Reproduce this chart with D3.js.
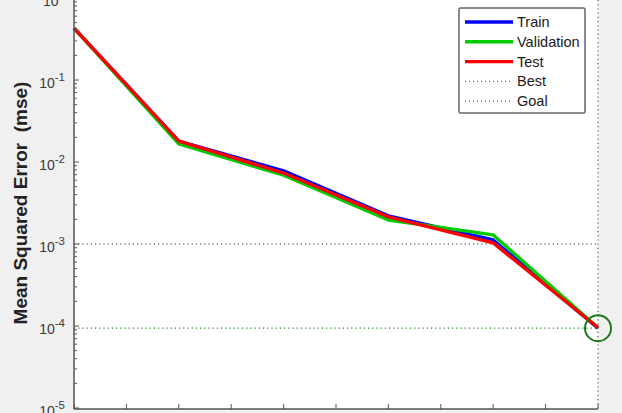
<!DOCTYPE html>
<html lang="en">
<head>
<meta charset="UTF-8">
<title>Performance plot</title>
<script src="https://d3js.org/d3.v7.min.js"></script>
<style>
  body { margin: 0; background: #f0f0f0; }
  svg { display: block; font-family: "Liberation Sans", Arial, sans-serif; }
  .tick-label { font-size: 14px; fill: #3a3a3a; }
  .legend-text { font-size: 14.5px; fill: #1a1a1a; }
</style>
</head>
<body>
<div id="chart"></div>
<script>
  // epochs and mse per data set
  const epochs = [0, 1, 2, 3, 4, 5];
  const trainMse = [0.43, 0.018, 0.0078, 0.0022, 0.00112, 0.000094];
  const validMse = [0.43, 0.0166, 0.0069, 0.00196, 0.00129, 0.000095];
  const testMse  = [0.43, 0.018, 0.00734, 0.00214, 0.00103, 0.000096];
  const bestEpoch = 5;
  const bestValue = 0.000094;
  const goalValue = 0.001;
  const yDecades = [1e-5, 1e-4, 1e-3, 1e-2, 1e-1, 1];
  const legendNames = ["Train", "Validation", "Test", "Best", "Goal"];

  const W = 622, H = 413;
  const mLeft = 74, mRight = 598, mTop = -2, mBottom = 408;

  const svg = d3.select("#chart").append("svg")
      .attr("width", W).attr("height", H);

  // white axes area
  svg.append("rect")
      .attr("x", mLeft).attr("y", 0)
      .attr("width", mRight - mLeft).attr("height", mBottom + 1)
      .attr("fill", "white");

  const x = d3.scaleLinear().domain([0, 5]).range([mLeft, mRight]);
  const y = d3.scaleLog().domain([1e-5, 1]).range([mBottom, mTop]);

  // goal and best guide lines
  svg.append("line")
      .attr("x1", mLeft).attr("x2", mRight)
      .attr("y1", y(goalValue)).attr("y2", y(goalValue))
      .attr("stroke", "#333").attr("stroke-width", 1.2)
      .attr("stroke-dasharray", "1.2,3");
  svg.append("line")
      .attr("x1", mLeft).attr("x2", mRight)
      .attr("y1", y(bestValue)).attr("y2", y(bestValue))
      .attr("stroke", "#1f8a1f").attr("stroke-width", 1.2)
      .attr("stroke-dasharray", "1.2,3");
  svg.append("line")
      .attr("x1", x(bestEpoch)).attr("x2", x(bestEpoch))
      .attr("y1", 0).attr("y2", mBottom)
      .attr("stroke", "#1f8a1f").attr("stroke-width", 1.2)
      .attr("stroke-dasharray", "1.2,3");

  // series
  const line = d3.line().x((d, i) => x(epochs[i])).y(d => y(d));
  const series = [
    { name: "Train", values: trainMse, color: "#0000ff" },
    { name: "Validation", values: validMse, color: "#00cc00" },
    { name: "Test", values: testMse, color: "#ff0000" }
  ];
  series.forEach(s => {
    svg.append("path")
        .datum(s.values)
        .attr("d", line)
        .attr("fill", "none")
        .attr("stroke", s.color)
        .attr("stroke-width", 3.4)
        .attr("stroke-linejoin", "round");
  });

  // best circle
  svg.append("circle")
      .attr("cx", x(bestEpoch)).attr("cy", y(bestValue))
      .attr("r", 13)
      .attr("fill", "none")
      .attr("stroke", "#1a7a1a")
      .attr("stroke-width", 2);

  // axes lines
  svg.append("line")
      .attr("x1", mLeft).attr("x2", mLeft).attr("y1", 0).attr("y2", mBottom + 1)
      .attr("stroke", "#555").attr("stroke-width", 1.5);
  svg.append("line")
      .attr("x1", mLeft).attr("x2", mRight).attr("y1", mBottom + 1).attr("y2", mBottom + 1)
      .attr("stroke", "#555").attr("stroke-width", 1.5);

  // y ticks: majors + minors, drawn inward
  const minorVals = [];
  for (let e = -5; e < 0; e++) {
    for (let m = 2; m <= 9; m++) minorVals.push(m * Math.pow(10, e));
  }
  svg.selectAll(".ymin").data(minorVals).enter().append("line")
      .attr("x1", mLeft).attr("x2", mLeft + 3)
      .attr("y1", d => y(d)).attr("y2", d => y(d))
      .attr("stroke", "#555").attr("stroke-width", 1);
  svg.selectAll(".ymaj").data(yDecades).enter().append("line")
      .attr("x1", mLeft).attr("x2", mLeft + 5)
      .attr("y1", d => y(d)).attr("y2", d => y(d))
      .attr("stroke", "#555").attr("stroke-width", 1);

  const lbl = svg.selectAll(".ylab").data(yDecades).enter().append("text")
      .attr("class", "tick-label")
      .attr("text-anchor", "end")
      .attr("x", mLeft - 9)
      .attr("y", d => y(d) + 8);
  lbl.append("tspan").text("10");
  lbl.append("tspan")
      .attr("dy", -7)
      .attr("font-size", "11.5px")
      .text(d => Math.round(Math.log10(d)));

  // x ticks every half epoch, inward
  const xTicks = d3.range(0, 5.01, 0.5);
  svg.selectAll(".xt").data(xTicks).enter().append("line")
      .attr("x1", d => x(d)).attr("x2", d => x(d))
      .attr("y1", mBottom + 1).attr("y2", mBottom - 4)
      .attr("stroke", "#555").attr("stroke-width", 1);

  // y axis title
  svg.append("text")
      .attr("transform", `translate(27, 203) rotate(-90)`)
      .attr("text-anchor", "middle")
      .attr("font-size", "19px")
      .attr("font-weight", "bold")
      .attr("fill", "#222")
      .style("white-space", "pre")
      .text("Mean Squared Error  (mse)");

  // legend
  const lg = svg.append("g").attr("transform", "translate(459,8)");
  lg.append("rect")
      .attr("width", 126).attr("height", 105)
      .attr("rx", 1.5)
      .attr("fill", "white")
      .attr("stroke", "#666").attr("stroke-width", 1.5);
  const legendStyle = [
    { color: "#0000ff", width: 3.4, dash: null },
    { color: "#00cc00", width: 3.4, dash: null },
    { color: "#ff0000", width: 3.4, dash: null },
    { color: "#1f8a1f", width: 1, dash: "1,3" },
    { color: "#333", width: 1, dash: "1,3" }
  ];
  legendNames.forEach((name, i) => {
    const yy = 14 + i * 19.8;
    lg.append("line")
        .attr("x1", 6).attr("x2", 54).attr("y1", yy).attr("y2", yy)
        .attr("stroke", legendStyle[i].color)
        .attr("stroke-width", legendStyle[i].width)
        .attr("stroke-dasharray", legendStyle[i].dash);
    lg.append("text")
        .attr("class", "legend-text")
        .attr("x", 58).attr("y", yy + 5)
        .text(name);
  });
</script>
</body>
</html>
